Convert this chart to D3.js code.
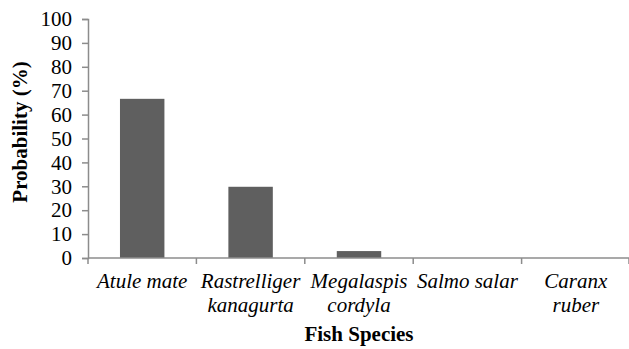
<!DOCTYPE html>
<html>
<head>
<meta charset="utf-8">
<script src="https://cdn.jsdelivr.net/npm/d3@7"></script>
</head>
<body style="margin:0">
<script>
// data
const species = [["Atule mate"], ["Rastrelliger", "kanagurta"], ["Megalaspis", "cordyla"], ["Salmo salar"], ["Caranx", "ruber"]];
const probability = [66.6, 29.8, 2.9, 0, 0];
const yTicks = [0, 10, 20, 30, 40, 50, 60, 70, 80, 90, 100];

const width = 629, height = 349;
const plotLeft = 88, plotRight = 630, plotTop = 19, plotBottom = 258;
const serif = "Liberation Serif";

const svg = d3.select("body").append("svg")
  .attr("width", width)
  .attr("height", height)
  .attr("font-family", serif);

const x = d3.scaleBand()
  .domain(d3.range(species.length))
  .range([plotLeft, plotRight])
  .padding(0);

const y = d3.scaleLinear()
  .domain([0, 100])
  .range([plotBottom, plotTop]);

const axisColor = "#8c8c8c";

// y axis
const gy = svg.append("g")
  .attr("transform", "translate(" + plotLeft + ",0)")
  .call(d3.axisLeft(y).tickValues(yTicks).tickSize(6).tickPadding(10));
gy.attr("font-family", serif).attr("font-size", "21px");
gy.selectAll("text")
  .attr("fill", "#000")
  .style("font", "21px 'Liberation Serif', serif");
gy.selectAll("line, path").attr("stroke", axisColor).attr("stroke-width", 1.5);

// bars
const barW = x.bandwidth() * 0.41;
svg.selectAll(".bar")
  .data(probability)
  .enter()
  .append("rect")
  .attr("class", "bar")
  .attr("x", (d, i) => x(i) + x.bandwidth() / 2 - barW / 2)
  .attr("y", d => y(d))
  .attr("width", barW)
  .attr("height", d => plotBottom - y(d))
  .attr("fill", "#5f5f5f");

// x axis line and ticks at category boundaries
const gx = svg.append("g");
gx.append("line")
  .attr("x1", plotLeft).attr("x2", plotRight)
  .attr("y1", plotBottom).attr("y2", plotBottom)
  .attr("stroke", axisColor).attr("stroke-width", 1.5);
const bounds = d3.range(species.length + 1).map(i => i < species.length ? x(i) : plotRight - 1);
gx.selectAll(".xtick")
  .data(bounds)
  .enter()
  .append("line")
  .attr("x1", d => d).attr("x2", d => d)
  .attr("y1", plotBottom).attr("y2", plotBottom + 6)
  .attr("stroke", axisColor).attr("stroke-width", 1.5);

// category labels
const labels = svg.selectAll(".cat")
  .data(species)
  .enter()
  .append("text")
  .attr("class", "cat")
  .attr("text-anchor", "middle")
  .style("font", "italic 21px 'Liberation Serif', serif")
  .attr("x", (d, i) => x(i) + x.bandwidth() / 2)
  .attr("y", 288);
labels.selectAll("tspan")
  .data(d => d)
  .enter()
  .append("tspan")
  .attr("x", function() { return d3.select(this.parentNode).attr("x"); })
  .attr("dy", (d, i) => i === 0 ? 0 : 24)
  .text(d => d);

// axis titles
svg.append("text")
  .attr("x", 359)
  .attr("y", 341)
  .attr("text-anchor", "middle")
  .style("font", "bold 21px 'Liberation Serif', serif")
  .text("Fish Species");

svg.append("text")
  .attr("transform", "translate(27,132) rotate(-90)")
  .attr("text-anchor", "middle")
  .style("font", "bold 21px 'Liberation Serif', serif")
  .text("Probability (%)");
</script>
</body>
</html>
